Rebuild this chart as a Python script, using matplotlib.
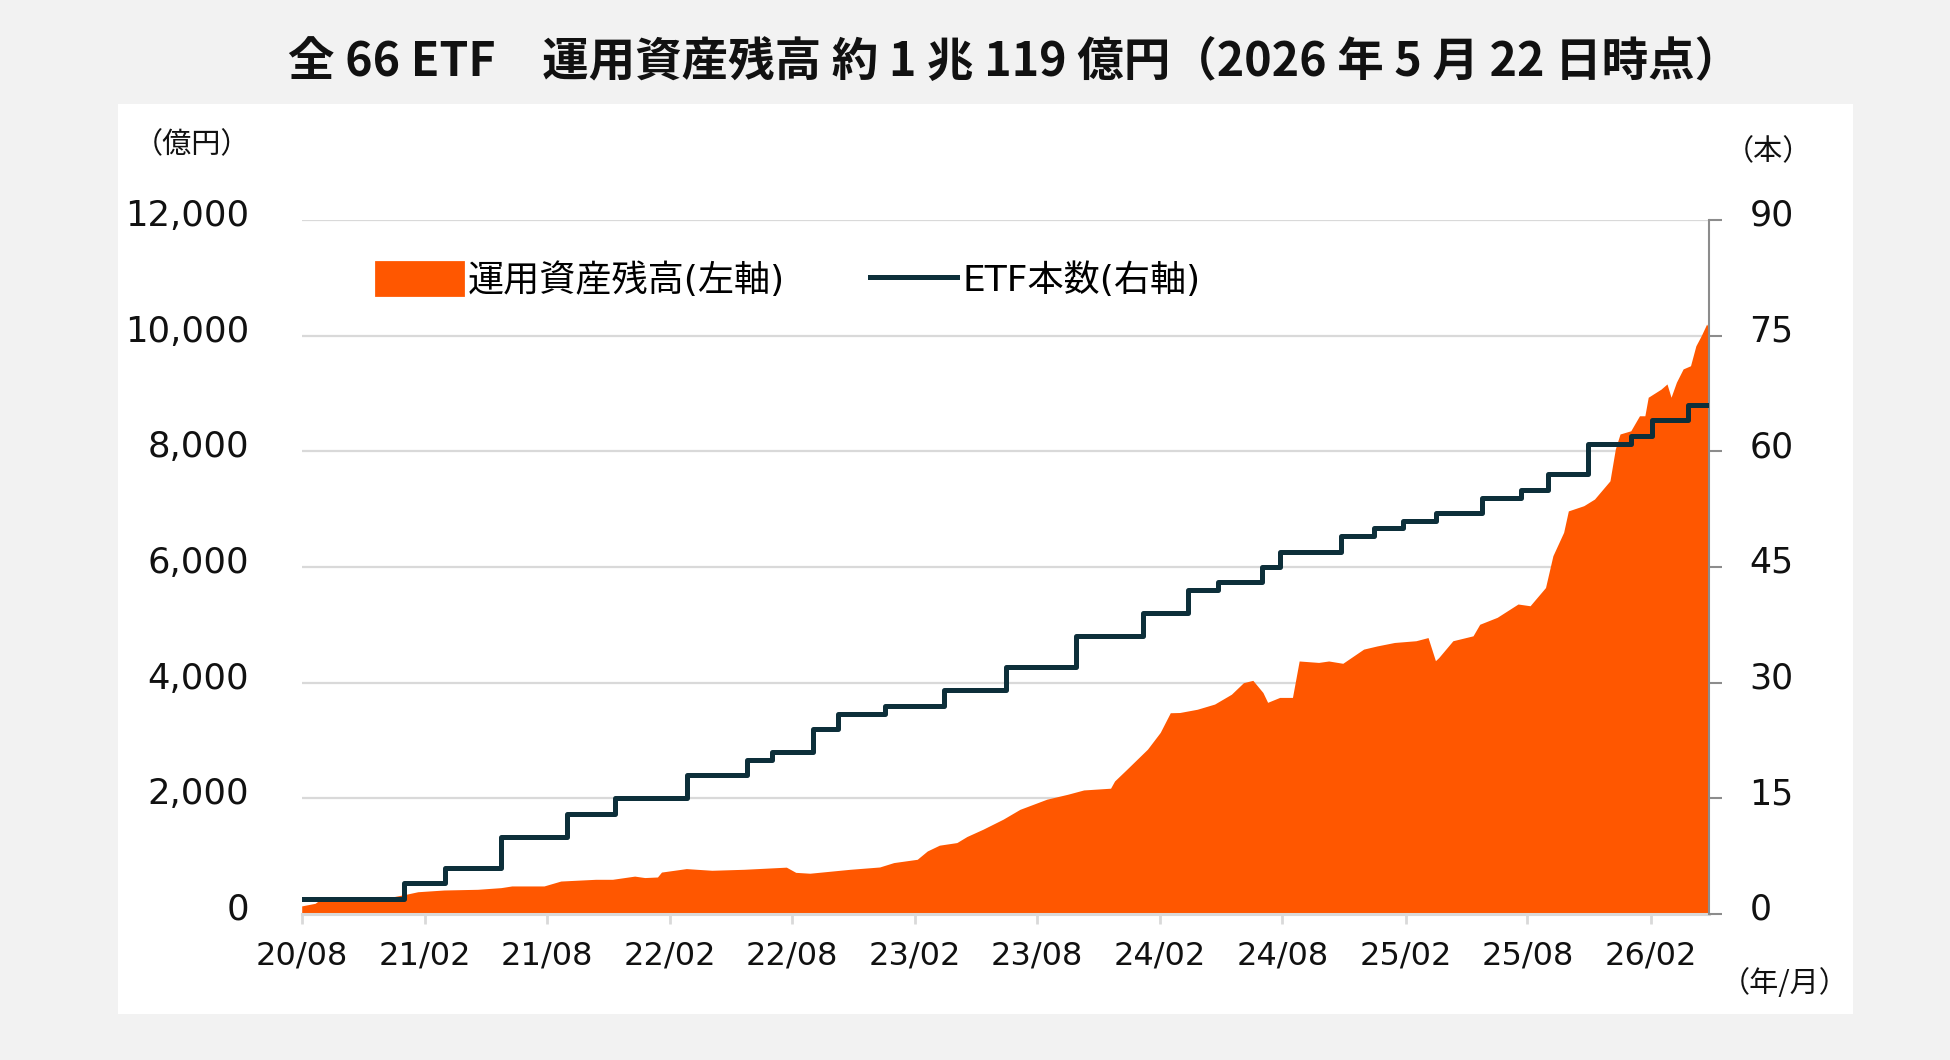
import matplotlib
matplotlib.use("Agg")
import matplotlib.pyplot as plt
import matplotlib.dates as mdates
import matplotlib.transforms as mtransforms
from matplotlib.patches import Patch, Rectangle
from matplotlib.lines import Line2D
import pandas as pd

plt.rcParams['font.family'] = ['DejaVu Sans', 'Noto Sans CJK JP']

# -----------------------------
# Data
# -----------------------------
aum_dates = [
    "2020-08-01", "2020-08-21", "2020-08-28", "2020-10-01", "2020-11-16", "2020-12-16",
    "2021-01-03", "2021-01-21", "2021-03-01", "2021-04-20", "2021-05-25", "2021-06-10",
    "2021-07-28", "2021-08-22", "2021-10-13", "2021-11-07", "2021-12-10", "2021-12-25",
    "2022-01-13", "2022-01-19", "2022-02-25", "2022-04-04", "2022-05-22", "2022-07-24",
    "2022-08-07", "2022-08-28", "2022-10-27", "2022-12-10", "2022-12-31", "2023-02-04",
    "2023-02-19", "2023-03-09", "2023-04-04", "2023-04-19", "2023-05-13", "2023-06-12",
    "2023-07-07", "2023-08-16", "2023-09-16", "2023-10-10", "2023-11-19", "2023-11-25",
    "2023-12-13", "2024-01-13", "2024-02-01", "2024-02-16", "2024-03-01", "2024-03-27",
    "2024-04-22", "2024-05-17", "2024-06-04", "2024-06-18", "2024-07-03", "2024-07-10",
    "2024-07-28", "2024-08-16", "2024-08-26", "2024-09-24", "2024-10-09", "2024-10-30",
    "2024-11-30", "2024-12-20", "2025-01-15", "2025-02-16", "2025-03-06", "2025-03-17",
    "2025-03-22", "2025-04-12", "2025-05-12", "2025-05-22", "2025-06-17", "2025-07-18",
    "2025-08-05", "2025-08-28", "2025-09-08", "2025-09-24", "2025-10-01", "2025-10-24",
    "2025-11-09", "2025-12-02", "2025-12-10", "2025-12-17", "2026-01-02", "2026-01-15",
    "2026-01-23", "2026-01-28", "2026-02-16", "2026-02-25", "2026-03-03", "2026-03-11",
    "2026-03-21", "2026-04-01", "2026-04-09", "2026-04-17", "2026-04-25", "2026-04-29",
]
aum_values = [
    140, 185, 245, 265, 285, 300,
    340, 385, 415, 427, 456, 485,
    485, 570, 600, 600, 655, 630,
    640, 725, 785, 756, 773, 810,
    720, 705, 773, 813, 889, 946,
    1090, 1190, 1235, 1340, 1466, 1640,
    1810, 1985, 2070, 2145, 2175, 2300,
    2500, 2850, 3140, 3480, 3484, 3540,
    3630, 3800, 4000, 4040, 3830, 3660,
    3745, 3745, 4375, 4350, 4375, 4335,
    4580, 4635, 4695, 4725, 4780, 4380,
    4435, 4725, 4810, 5010, 5130, 5360,
    5330, 5645, 6195, 6600, 6970, 7060,
    7175, 7490, 8040, 8300, 8355, 8615,
    8615, 8935, 9075, 9165, 8935, 9195,
    9425, 9480, 9825, 10000, 10200, 10119,
]

etf_dates = [
    "2020-08-01", "2021-01-01", "2021-03-02", "2021-05-25", "2021-08-31", "2021-11-11",
    "2022-02-26", "2022-05-27", "2022-07-02", "2022-09-02", "2022-10-09", "2022-12-18",
    "2023-03-16", "2023-06-16", "2023-09-29", "2024-01-07", "2024-03-14", "2024-04-27",
    "2024-07-01", "2024-07-28", "2024-10-27", "2024-12-16", "2025-01-27", "2025-03-18",
    "2025-05-26", "2025-07-23", "2025-09-01", "2025-10-31", "2026-01-03", "2026-02-03",
    "2026-03-28", "2026-04-29",
]
etf_counts = [
    2, 4, 6, 10, 13, 15,
    18, 20, 21, 24, 26, 27,
    29, 32, 36, 39, 42, 43,
    45, 47, 49, 50, 51, 52,
    54, 55, 57, 61, 62, 64,
    66, 66,
]

left_ticks = [0, 2000, 4000, 6000, 8000, 10000, 12000]
right_ticks = [0, 15, 30, 45, 60, 75, 90]

title = "全 66 ETF　運用資産残高 約 1 兆 119 億円（2026 年 5 月 22 日時点）"

orange = "#ff5700"
navy = "#0d2f3a"
grid_gray = "#d9d9d9"

aum_x = pd.to_datetime(aum_dates)
etf_x = pd.to_datetime(etf_dates)

# -----------------------------
# Figure
# -----------------------------
fig = plt.figure(figsize=(19.5, 10.6), dpi=100)
fig.patch.set_facecolor("#f2f2f2")
fig.patches.append(Rectangle((118 / 1950, 1 - 1014 / 1060), (1853 - 118) / 1950, (1014 - 104) / 1060,
                             transform=fig.transFigure, facecolor="white", edgecolor="none", zorder=-5))

ax = fig.add_axes([301.7 / 1950, 1 - 914 / 1060, (1709.3 - 301.7) / 1950, (914 - 220) / 1060])
ax.set_facecolor("none")
ax2 = ax.twinx()

# area (left axis)
ax.fill_between(aum_x, aum_values, 0, color=orange, linewidth=0, zorder=2)
ax.set_ylim(0, 12000)
ax.set_yticks(left_ticks)
ax.set_yticklabels([f"{v:,}" for v in left_ticks])
ax.set_axisbelow(True)
ax.grid(axis="y", color=grid_gray, linewidth=1.6)
ax.set_xlim(aum_x[0], aum_x[-1])
ax.xaxis.set_major_locator(mdates.MonthLocator(bymonth=[2, 8]))
ax.xaxis.set_major_formatter(mdates.DateFormatter("%y/%m"))

for s in ["top", "left", "right"]:
    ax.spines[s].set_visible(False)
ax.spines["bottom"].set_color(grid_gray)
ax.spines["bottom"].set_linewidth(2.2)
ax.spines["bottom"].set_zorder(3)
ax.tick_params(axis="y", length=0, pad=38, labelsize=25.5, labelcolor="#111111")
ax.tick_params(axis="x", length=7, width=2, color=grid_gray, pad=12, labelsize=23, labelcolor="#111111")

# step line (right axis)
ax2.step(etf_x, etf_counts, where="post", color=navy, linewidth=3.6, zorder=4)
ax2.set_ylim(0, 90)
ax2.set_yticks(right_ticks)
for s in ["top", "left", "bottom"]:
    ax2.spines[s].set_visible(False)
ax2.spines["right"].set_color("#8c8c8c")
ax2.spines["right"].set_linewidth(1.5)
ax2.tick_params(axis="y", length=9, width=1.5, color="#8c8c8c", pad=20, labelsize=25, labelcolor="#111111")

# value labels sit a little above their gridlines
lift = mtransforms.ScaledTranslation(0, 5.5 / 72, fig.dpi_scale_trans)
for lab in ax.get_yticklabels() + ax2.get_yticklabels():
    lab.set_transform(lab.get_transform() + lift)

# legend
handles = [Patch(facecolor=orange, edgecolor=orange, linewidth=2, joinstyle="round"),
           Line2D([0], [0], color=navy, linewidth=3.6)]
fig.legend(handles, ["運用資産残高(左軸)", "ETF本数(右軸)"], ncol=2, frameon=False,
           loc="center left", bbox_to_anchor=(376 / 1950, 1 - 280 / 1060),
           borderaxespad=0, borderpad=0, fontsize=26, handlelength=2.4, handleheight=1.0,
           handletextpad=0.15, columnspacing=2.35)

# texts
fig.text(1015 / 1950, 1 - 62 / 1060, title, ha="center", va="center", fontsize=33.5,
         fontweight="bold", family=["Noto Sans CJK JP"], color="#111111")
fig.text(192 / 1950, 1 - 145 / 1060, "（億円）", ha="center", va="center", fontsize=21,
         family=["Noto Sans CJK JP"], color="#111111")
fig.text(1768 / 1950, 1 - 152 / 1060, "（本）", ha="center", va="center", fontsize=21,
         family=["Noto Sans CJK JP"], color="#111111")
fig.text(1785 / 1950, 1 - 984 / 1060, "（年/月）", ha="center", va="center", fontsize=21,
         family=["Noto Sans CJK JP"], color="#111111")

fig.savefig("out.png", dpi=100, facecolor=fig.get_facecolor())
